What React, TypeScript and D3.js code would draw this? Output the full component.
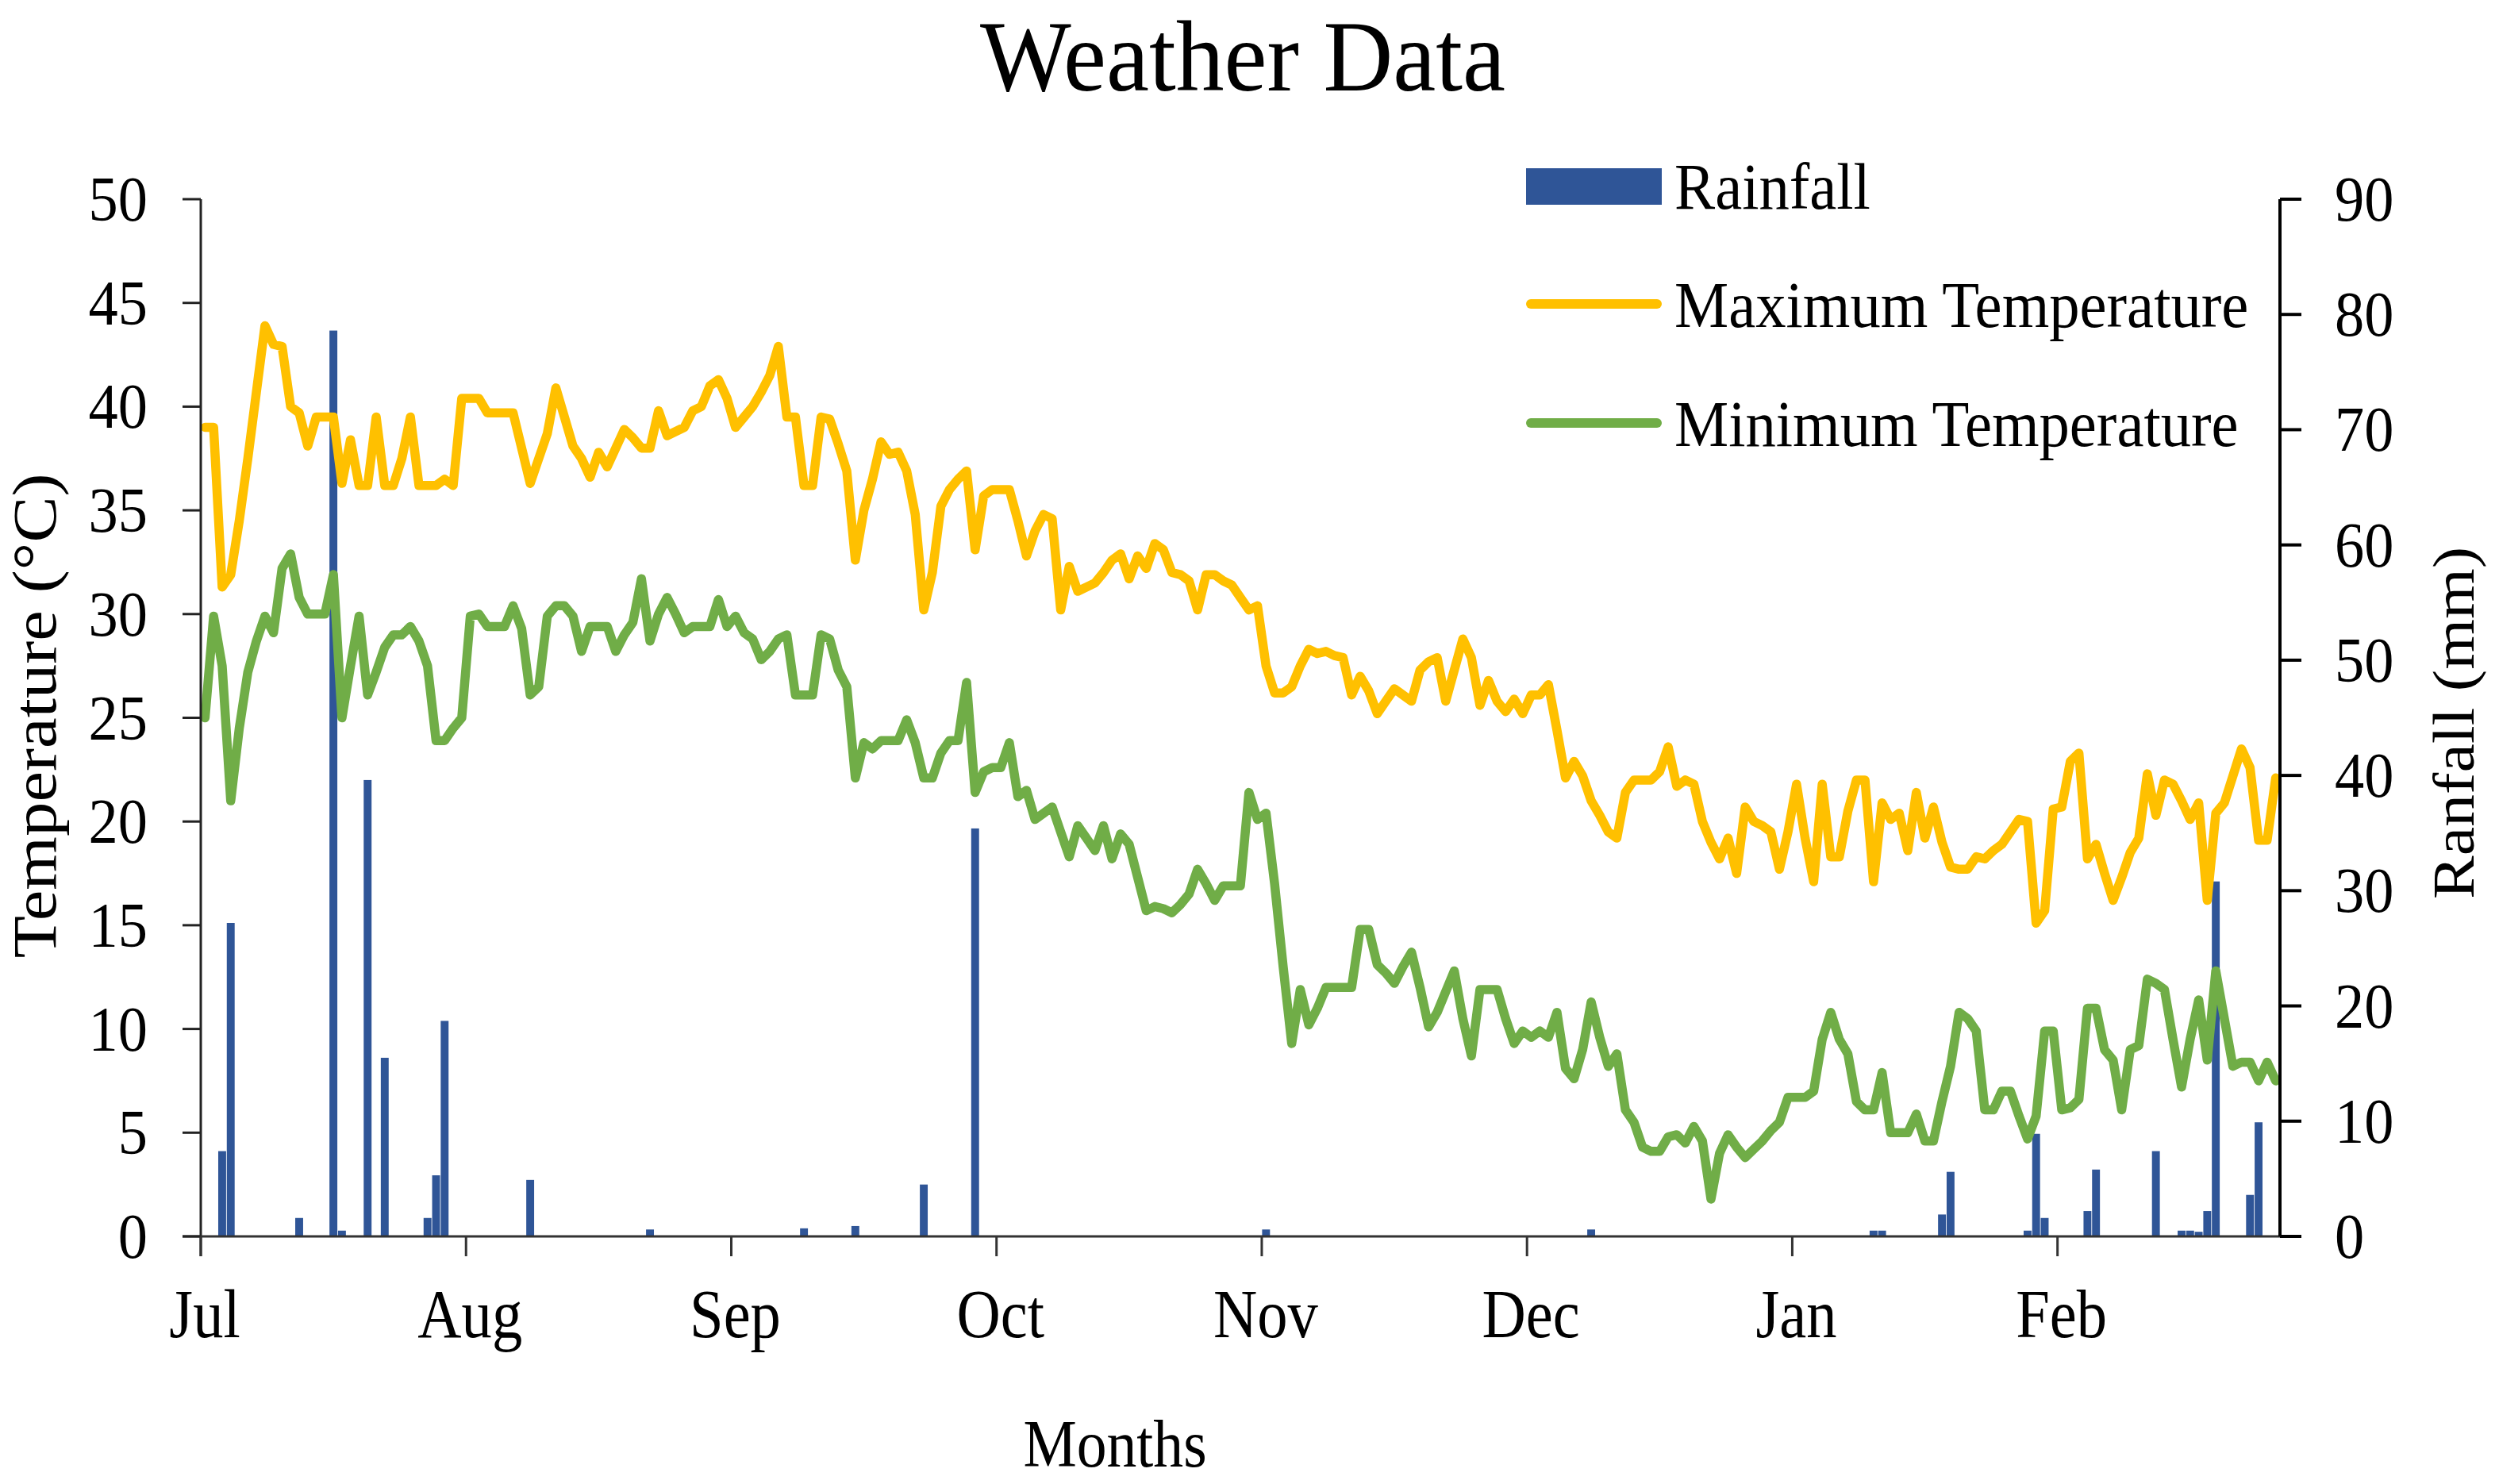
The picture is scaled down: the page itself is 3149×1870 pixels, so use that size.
import React from 'react';
import * as d3 from 'd3';

// daily series, Jul 1 .. Feb 28 (243 days)
const maxTemp = [
  39.0, 39.0, 31.3, 31.9, 34.5, 37.5, 40.7, 43.9, 43.0, 42.9,
  40.0, 39.7, 38.1, 39.5, 39.5, 39.5, 36.3, 38.4, 36.2, 36.2,
  39.5, 36.2, 36.2, 37.5, 39.5, 36.2, 36.2, 36.2, 36.5, 36.2,
  40.4, 40.4, 40.4, 39.7, 39.7, 39.7, 39.7, 38.0, 36.3, 37.5,
  38.7, 40.9, 39.5, 38.1, 37.5, 36.6, 37.8, 37.1, 38.0, 38.9,
  38.5, 38.0, 38.0, 39.8, 38.6, 38.8, 39.0, 39.8, 40.0, 41.0,
  41.3, 40.4, 39.0, 39.5, 40.0, 40.7, 41.5, 42.9, 39.5, 39.5,
  36.2, 36.2, 39.5, 39.4, 38.2, 36.9, 32.6, 35.0, 36.5, 38.3,
  37.7, 37.8, 36.9, 34.8, 30.2, 32.0, 35.2, 36.0, 36.5, 36.9,
  33.1, 35.7, 36.0, 36.0, 36.0, 34.5, 32.8, 34.0, 34.8, 34.6,
  30.2, 32.3, 31.1, 31.3, 31.5, 32.0, 32.6, 32.9, 31.7, 32.8,
  32.2, 33.4, 33.1, 32.0, 31.9, 31.6, 30.2, 31.9, 31.9, 31.6,
  31.4, 30.8, 30.2, 30.4, 27.5, 26.2, 26.2, 26.5, 27.5, 28.3,
  28.1, 28.2, 28.0, 27.9, 26.1, 27.0, 26.3, 25.2, 25.8, 26.4,
  26.1, 25.8, 27.3, 27.7, 27.9, 25.8, 27.3, 28.8, 27.9, 25.6,
  26.8, 25.8, 25.3, 25.9, 25.2, 26.1, 26.1, 26.6, 24.4, 22.1,
  22.9, 22.2, 21.0, 20.3, 19.5, 19.2, 21.4, 22.0, 22.0, 22.0,
  22.4, 23.6, 21.7, 22.0, 21.8, 20.0, 19.0, 18.2, 19.2, 17.5,
  20.7, 20.0, 19.8, 19.5, 17.7, 19.5, 21.8, 19.2, 17.1, 21.8,
  18.3, 18.3, 20.5, 22.0, 22.0, 17.1, 20.9, 20.1, 20.4, 18.6,
  21.4, 19.2, 20.7, 19.0, 17.8, 17.7, 17.7, 18.3, 18.2, 18.6,
  18.9, 19.5, 20.1, 20.0, 15.1, 15.7, 20.6, 20.7, 22.9, 23.3,
  18.2, 18.9, 17.5, 16.2, 17.3, 18.5, 19.2, 22.3, 20.3, 22.0,
  21.8, 21.0, 20.1, 20.9, 16.2, 20.4, 20.9, 22.2, 23.5, 22.6,
  19.1, 19.1, 22.1,
];

const minTemp = [
  25.0, 29.9, 27.5, 21.0, 24.5, 27.2, 28.7, 29.9, 29.1, 32.2,
  32.9, 30.8, 30.0, 30.0, 30.0, 31.9, 25.0, 27.5, 29.9, 26.1,
  27.2, 28.4, 29.0, 29.0, 29.4, 28.7, 27.5, 23.9, 23.9, 24.5,
  25.0, 29.9, 30.0, 29.4, 29.4, 29.4, 30.4, 29.3, 26.1, 26.5,
  29.9, 30.4, 30.4, 29.9, 28.2, 29.4, 29.4, 29.4, 28.2, 29.0,
  29.6, 31.7, 28.7, 30.0, 30.8, 30.0, 29.1, 29.4, 29.4, 29.4,
  30.7, 29.4, 29.9, 29.1, 28.8, 27.8, 28.2, 28.8, 29.0, 26.1,
  26.1, 26.1, 29.0, 28.8, 27.3, 26.5, 22.1, 23.8, 23.5, 23.9,
  23.9, 23.9, 24.9, 23.8, 22.1, 22.1, 23.3, 23.9, 23.9, 26.7,
  21.4, 22.4, 22.6, 22.6, 23.8, 21.2, 21.5, 20.1, 20.4, 20.7,
  19.5, 18.3, 19.8, 19.2, 18.6, 19.8, 18.2, 19.4, 18.9, 17.3,
  15.7, 15.9, 15.8, 15.6, 16.0, 16.5, 17.7, 17.0, 16.2, 16.9,
  16.9, 16.9, 21.4, 20.1, 20.4, 17.0, 13.0, 9.3, 11.9, 10.2,
  11.0, 12.0, 12.0, 12.0, 12.0, 14.8, 14.8, 13.1, 12.7, 12.2,
  13.0, 13.7, 12.0, 10.1, 10.8, 11.8, 12.8, 10.5, 8.7, 11.9,
  11.9, 11.9, 10.5, 9.3, 9.9, 9.6, 9.9, 9.6, 10.8, 8.1,
  7.6, 9.0, 11.3, 9.6, 8.2, 8.8, 6.1, 5.5, 4.3, 4.1,
  4.1, 4.8, 4.9, 4.5, 5.3, 4.6, 1.8, 4.0, 4.9, 4.3,
  3.8, 4.2, 4.6, 5.1, 5.5, 6.7, 6.7, 6.7, 7.0, 9.5,
  10.8, 9.5, 8.8, 6.5, 6.1, 6.1, 7.9, 5.0, 5.0, 5.0,
  5.9, 4.6, 4.6, 6.5, 8.2, 10.8, 10.5, 9.9, 6.1, 6.1,
  7.0, 7.0, 5.8, 4.7, 5.8, 9.9, 9.9, 6.1, 6.2, 6.6,
  11.0, 11.0, 9.0, 8.5, 6.1, 9.0, 9.2, 12.4, 12.2, 11.9,
  9.5, 7.2, 9.5, 11.4, 8.5, 12.8, 10.5, 8.2, 8.4, 8.4,
  7.5, 8.4, 7.5,
];

// rainy days (day index from Jul 1) and amounts in mm
const rainDay = [2, 3, 11, 15, 16, 19, 21, 26, 27, 28, 38, 52, 70, 76, 84, 90, 124, 162, 195, 196,
  203, 204, 213, 214, 215, 220, 221, 228, 231, 232, 233, 234, 235, 239, 240];
const rainMm = [7.4, 27.2, 1.6, 78.6, 0.5, 39.6, 15.5, 1.6, 5.3, 18.7, 4.9, 0.6, 0.7, 0.9, 4.5, 35.4, 0.6, 0.6, 0.5, 0.5,
  1.9, 5.6, 0.5, 8.9, 1.6, 2.2, 5.8, 7.4, 0.5, 0.5, 0.4, 2.2, 30.8, 3.6, 9.9];

const monthLabels = ['Jul', 'Aug', 'Sep', 'Oct', 'Nov', 'Dec', 'Jan', 'Feb'];
const tempTicks = [0, 5, 10, 15, 20, 25, 30, 35, 40, 45, 50];
const rainTicks = [0, 10, 20, 30, 40, 50, 60, 70, 80, 90];

const W = 3149;
const H = 1870;
const FONT = "'Liberation Serif', 'Times New Roman', serif";
const SX = 0.89; // glyphs in the source are a bit narrow

const BLUE = '#2F5597';
const GOLD = '#FFC000';
const GREEN = '#70AD47';

const App = () => {
  const left = 253;
  const right = 2873;
  const top = 251;
  const bottom = 1558;

  const nDays = maxTemp.length;
  const x = d3.scaleLinear().domain([0, nDays]).range([left, right]);
  const yT = d3.scaleLinear().domain([0, 50]).range([bottom, top]);
  const yR = d3.scaleLinear().domain([0, 90]).range([bottom, top]);
  const band = x(1) - x(0);
  const barW = band * 0.92;

  const line = d3.line<number>()
    .x((_, i) => x(i + 0.5))
    .y(d => yT(d));

  // month ticks every 31 categories
  const monthPos = monthLabels.map((_, k) => k * 31);

  const hText = (txt, tx, ty, size, anchor = 'middle', sx = SX) => (
    <text transform={`translate(${tx},${ty}) scale(${sx},1)`} textAnchor={anchor}
      fontFamily={FONT} fontSize={size} fill="#000">{txt}</text>
  );

  return (
    <svg width={W} height={H} style={{ position: 'absolute', left: 0, top: 0, background: '#fff' }}>
      <rect width={W} height={H} fill="#fff" />

      {hText('Weather Data', 1566, 114, 128, 'middle', 0.95)}

      {/* rainfall bars */}
      {rainDay.map((d, i) => (
        <rect key={'r' + i} x={x(d + 0.5) - barW / 2} y={yR(rainMm[i])} width={barW}
          height={bottom - yR(rainMm[i])} fill={BLUE} />
      ))}

      <path d={line(maxTemp)} fill="none" stroke={GOLD} strokeWidth={11.5} strokeLinejoin="round" strokeLinecap="round" />
      <path d={line(minTemp)} fill="none" stroke={GREEN} strokeWidth={11.5} strokeLinejoin="round" strokeLinecap="round" />

      {/* axes */}
      <line x1={left} x2={left} y1={top} y2={bottom + 25} stroke="#222" strokeWidth={3} />
      <line x1={left - 23} x2={right} y1={bottom} y2={bottom} stroke="#333" strokeWidth={3} />
      <line x1={right} x2={right} y1={top} y2={bottom} stroke="#000" strokeWidth={4} />

      {tempTicks.map(t => (
        <g key={'t' + t}>
          <line x1={left - 23} x2={left} y1={yT(t)} y2={yT(t)} stroke="#222" strokeWidth={3} />
          {hText(String(t), 186, yT(t) + 27, 80, 'end', 0.93)}
        </g>
      ))}

      {rainTicks.map(t => (
        <g key={'m' + t}>
          <line x1={right} x2={right + 27} y1={yR(t)} y2={yR(t)} stroke="#000" strokeWidth={4} />
          {hText(String(t), 2942, yR(t) + 27, 80, 'start', 0.93)}
        </g>
      ))}

      {monthPos.map((p, k) => (
        <g key={'x' + k}>
          <line x1={x(p)} x2={x(p)} y1={bottom} y2={bottom + 25} stroke="#333" strokeWidth={3} />
          {hText(monthLabels[k], x(p) + 5, 1685, 86)}
        </g>
      ))}

      {hText('Months', 1405, 1848, 85)}

      <text transform={`translate(70,902) rotate(-90) scale(1,${SX})`} textAnchor="middle"
        fontFamily={FONT} fontSize={87} fill="#000">Temperature (°C)</text>
      <text transform={`translate(3117,911) rotate(-90) scale(1,${SX})`} textAnchor="middle"
        fontFamily={FONT} fontSize={82} fill="#000">Ranfall (mm)</text>

      {/* legend */}
      <rect x={1923} y={212} width={171} height={46} fill={BLUE} />
      {hText('Rainfall', 2110, 263, 82, 'start', 0.935)}
      <line x1={1929} x2={2088} y1={383} y2={383} stroke={GOLD} strokeWidth={12} strokeLinecap="round" />
      {hText('Maximum Temperature', 2110, 412, 82, 'start', 0.935)}
      <line x1={1929} x2={2088} y1={533} y2={533} stroke={GREEN} strokeWidth={12} strokeLinecap="round" />
      {hText('Minimum Temperature', 2110, 562, 82, 'start', 0.935)}
    </svg>
  );
};

export default App;
